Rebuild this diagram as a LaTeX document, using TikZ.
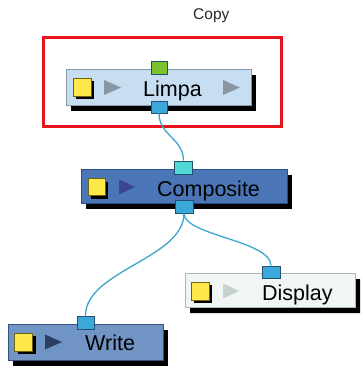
\documentclass[tikz,border=0pt]{standalone}
\usepackage{fontspec}
\setmainfont{Liberation Sans}
\usetikzlibrary{shadows,shapes.misc}
\definecolor{limpafill}{HTML}{C6DDF2}
\definecolor{limpaline}{HTML}{8797A6}
\definecolor{compfill}{HTML}{4A76B8}
\definecolor{compline}{HTML}{2E4C7E}
\definecolor{writefill}{HTML}{7094C4}
\definecolor{writeline}{HTML}{34507C}
\definecolor{dispfill}{HTML}{EFF6F4}
\definecolor{displine}{HTML}{A9B8B6}
\definecolor{portblue}{HTML}{3BA8DC}
\definecolor{portcyan}{HTML}{4FD8D6}
\definecolor{portgreen}{HTML}{7DC22A}
\definecolor{portline}{HTML}{23506E}
\definecolor{wire}{HTML}{3BA5CF}
\definecolor{yel}{HTML}{FFE84A}
\definecolor{yelline}{HTML}{6E6210}
\definecolor{tgrey}{HTML}{8896A2}
\definecolor{tcomp}{HTML}{3A4690}
\definecolor{twrite}{HTML}{2C3E62}
\definecolor{tdisp}{HTML}{C8D0D0}
\definecolor{selred}{HTML}{E8141C}
\tikzset{
  nodebox/.style={rectangle, inner sep=0pt, line width=0.8pt,
    drop shadow={shadow xshift=5pt, shadow yshift=-6pt, fill=black, opacity=1}},
  portbox/.style={rectangle, inner sep=0pt, draw=portline, line width=0.8pt, minimum height=13pt},
  yelbox/.style={rectangle, inner sep=0pt, minimum size=18pt, fill=yel, draw=yelline, line width=0.6pt,
    drop shadow={shadow xshift=3pt, shadow yshift=-3pt, fill=black, opacity=1}},
  lab/.style={anchor=base west, inner sep=0pt, font=\fontsize{21.5}{24}\selectfont},
  wirestyle/.style={draw=wire, line width=1.3pt}
}
\begin{document}
\begin{tikzpicture}[x=1pt,y=-1pt]
\useasboundingbox (0,0) rectangle (362,370);
\fill[white] (0,0) rectangle (362,370);

% title
\node[anchor=base west, inner sep=0pt, font=\fontsize{15.5}{18}\selectfont, text=black!85] (copy) at (193,19) {Copy};

% selection frame
\node[draw=selred, line width=3pt, minimum width=238pt, minimum height=89pt, inner sep=0pt] (sel) at (162,81.5) {};

% main nodes
\node[nodebox, fill=limpafill, draw=limpaline, minimum width=185pt, minimum height=36pt] (limpa) at (158.5,87) {};
\node[nodebox, fill=compfill, draw=compline, minimum width=206pt, minimum height=34pt] (comp) at (184,186) {};
\node[nodebox, fill=writefill, draw=writeline, minimum width=155pt, minimum height=36pt] (write) at (85.5,342) {};
\node[chamfered rectangle, chamfered rectangle corners={north west,north east}, chamfered rectangle xsep=4pt,
  inner sep=0pt, fill=dispfill, draw=displine, line width=0.8pt, minimum width=170pt, minimum height=34pt,
  drop shadow={shadow xshift=5pt, shadow yshift=-6pt, fill=black, opacity=1}] (disp) at (270,290) {};

% yellow squares
\node[yelbox] (ylimpa) at (82,87) {};
\node[yelbox, minimum size=17pt] (ycomp) at (96.5,187) {};
\node[yelbox] (ydisp) at (200,291) {};
\node[yelbox] (ywrite) at (23.5,342) {};

% triangles
\fill[tgrey] (104,80) -- (121,87.5) -- (104,95) -- cycle;
\fill[tgrey] (223,80) -- (240,87.5) -- (223,95) -- cycle;
\fill[tcomp] (119,179.5) -- (135,187) -- (119,194.5) -- cycle;
\fill[tdisp] (223,283.5) -- (239,291) -- (223,298.5) -- cycle;
\fill[twrite] (45,334.5) -- (62,342) -- (45,349.5) -- cycle;

% labels
\node[lab] (tlimpa) at (143,96) {Limpa};
\node[lab] (tcomp) at (157,196.5) {Composite};
\node[lab] (tdisp) at (262,300) {Display};
\node[lab] (twrite) at (85,350) {Write};

% ports
\node[portbox, fill=portgreen, minimum width=16pt] (pl_in) at (159,67.5) {};
\node[portbox, fill=portblue, minimum width=16pt, minimum height=12pt] (pl_out) at (159,107) {};
\node[portbox, fill=portcyan, minimum width=18pt] (pc_in) at (183.5,167.5) {};
\node[portbox, fill=portblue, minimum width=18pt] (pc_out) at (184,206.5) {};
\node[portbox, fill=portblue, minimum width=18pt, minimum height=12pt] (pd_in) at (271,272) {};
\node[portbox, fill=portblue, minimum width=17pt] (pw_in) at (85.5,322.5) {};

% wires
\draw[wirestyle] (pl_out.south) .. controls +(0,22) and +(0,-22) .. (pc_in.north);
\draw[wirestyle] (pc_out.south) .. controls +(0,22) and +(0,-25) .. (pd_in.north);
\draw[wirestyle] (pc_out.south) .. controls +(0,45) and +(0,-45) .. (pw_in.north);
\end{tikzpicture}
\end{document}
